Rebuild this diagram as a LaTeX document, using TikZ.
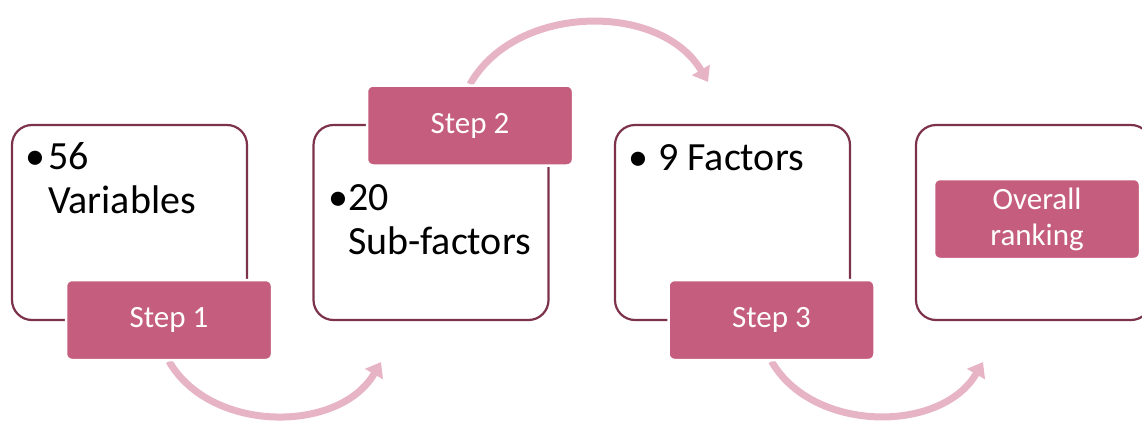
\documentclass[tikz,border=0pt]{standalone}
\usepackage{fontspec}
\setmainfont{Carlito}
\usetikzlibrary{arrows.meta,backgrounds}
\definecolor{wine}{RGB}{125,50,75}
\definecolor{rose}{RGB}{197,94,126}
\definecolor{blush}{RGB}{230,180,197}

\begin{document}
\begin{tikzpicture}[x=1pt,y=-1pt,
      panel/.style={draw=wine, line width=2.2pt, fill=white, rounded corners=20pt,
        minimum width=235pt, minimum height=195pt, inner sep=0pt},
      stepbox/.style={draw=white, line width=2.5pt, fill=rose, rounded corners=6pt,
        minimum width=206pt, minimum height=80pt, text=white, align=center,
        font=\fontsize{31}{36}\selectfont},
      item/.style={anchor=base west, inner sep=0pt, font=\fontsize{40}{44}\selectfont},
      flow/.style={draw=blush, line width=7pt, -{Triangle[length=14pt,width=20pt]}}
    ]
      \useasboundingbox (0,0) rectangle (1142,423);
      \clip (0,0) rectangle (1142,423);
      % panels
      \node[panel] (p1) at (129.5,222.5) {};
      \node[panel] (p2) at (431,222.5) {};
      \node[panel] (p3) at (732.5,222.5) {};
      \node[panel] (p4) at (1033.5,222.5) {};
      % bullet texts
      \node[item] (t1) at (25,169)
        {\begin{tabular}[t]{@{}l@{}l@{}}\makebox[23pt][l]{\textbullet}&56\\&Variables\end{tabular}};
      \node[item] (t2) at (328,210)
        {\begin{tabular}[t]{@{}l@{}l@{}}\makebox[20pt][l]{\textbullet}&20\\&Sub-factors\end{tabular}};
      \node[item] (t3) at (628,170) {\makebox[30pt][l]{\textbullet}9 Factors};
      % steps
      \node[stepbox] (s1) at (169,320) {Step 1};
      \node[stepbox] (s2) at (470,125.5) {Step 2};
      \node[stepbox] (s3) at (771.5,320) {Step 3};
      \node[stepbox] (rank) at (1037,219) {Overall\\ranking};
      % curved arrows
      \coordinate (e1) at (381,362);
      \coordinate (e2) at (708,82);
      \coordinate (e3) at (983,362);
      \begin{scope}[on background layer]
        \draw[flow] (s1.south) to[bend right=60] (e1);
        \draw[flow] (s2.north) to[bend left=60] (e2);
        \draw[flow] (s3.south) to[bend right=60] (e3);
      \end{scope}
    \end{tikzpicture}
\end{document}
